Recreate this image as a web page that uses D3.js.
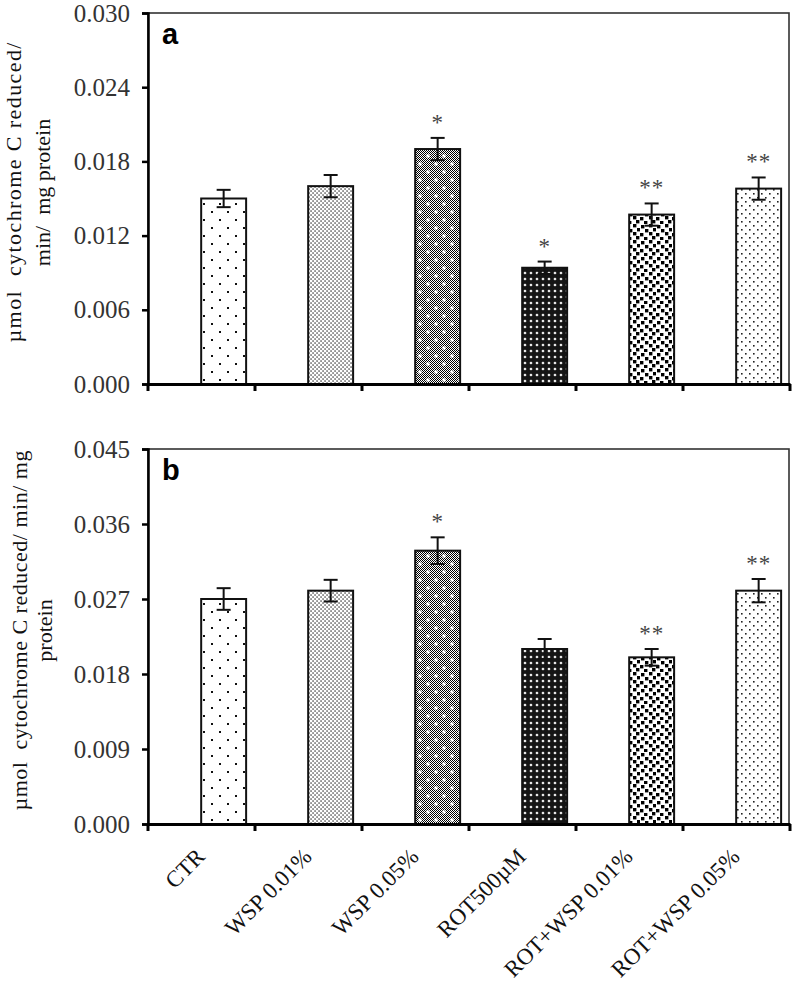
<!DOCTYPE html>
<html><head><meta charset="utf-8">
<script src="https://cdn.jsdelivr.net/npm/d3@7"></script>
<style>body{margin:0;background:#fff}svg{display:block}</style>
</head><body>
<svg id="chart" width="792" height="986"></svg>
<script>
const categories = ["CTR","WSP 0.01%","WSP 0.05%","ROT500µM","ROT+WSP 0.01%","ROT+WSP 0.05%"];
const valuesA = [0.015,0.016,0.019,0.0094,0.0137,0.0158];
const errorsA = [0.0007,0.0009,0.0009,0.0005,0.0009,0.0009];
const signifA = ["","","*","*","**","**"];
const valuesB = [0.027,0.028,0.0328,0.021,0.020,0.028];
const errorsB = [0.0013,0.0013,0.0016,0.0012,0.0010,0.0014];
const signifB = ["","","*","","**","**"];
const ticksA = [0,0.006,0.012,0.018,0.024,0.030];
const ticksB = [0,0.009,0.018,0.027,0.036,0.045];
const titleA = ["µmol  cytochrome C reduced/","min/  mg protein"];
const titleB = ["µmol  cytochrome C reduced/ min/ mg","protein"];
const patterns = ["pCTR","pW1","pW5","pROT","pRW1","pRW5"];

const svg = d3.select("#chart");
const defs = svg.append("defs");
function pat(id,w,h){return defs.append("pattern").attr("id",id).attr("patternUnits","userSpaceOnUse").attr("width",w).attr("height",h);}
let p = pat("pCTR",16,16); p.append("rect").attr("width",16).attr("height",16).attr("fill","#fff");
[[4,4],[12,12]].forEach(d=>p.append("rect").attr("x",d[0]-1).attr("y",d[1]-1).attr("width",2).attr("height",2).attr("fill","#111"));
p = pat("pW1",4,4); p.append("rect").attr("width",4).attr("height",4).attr("fill","#fff");
[[0.4,0.4],[2.4,2.4]].forEach(d=>p.append("rect").attr("x",d[0]).attr("y",d[1]).attr("width",1.3).attr("height",1.3).attr("fill","#222"));
p = pat("pW5",16,16); p.append("rect").attr("width",16).attr("height",16).attr("fill","#fff");
for(let i=0;i<16;i++)for(let j=0;j<16;j++){ if((i+j)%2===0) p.append("rect").attr("x",i).attr("y",j).attr("width",1).attr("height",1).attr("fill","#000"); }
[[4,4],[12,12]].forEach(d=>p.append("rect").attr("x",d[0]-1.5).attr("y",d[1]-1.5).attr("width",3).attr("height",3).attr("fill","#fff"));
p = pat("pROT",6,6); p.append("rect").attr("width",6).attr("height",6).attr("fill","#151515");
p.append("path").attr("d","M3,1.4L4.6,3L3,4.6L1.4,3Z").attr("fill","#fff");
p = pat("pRW1",16,16); p.append("rect").attr("width",16).attr("height",16).attr("fill","#fff");
[[1,1],[9,0],[5,5],[13,4],[0,9],[9,8],[4,13],[12,12]].forEach(d=>p.append("rect").attr("x",d[0]).attr("y",d[1]).attr("width",3.4).attr("height",3.4).attr("fill","#000"));
p = pat("pRW5",8,8); p.append("rect").attr("width",8).attr("height",8).attr("fill","#fff");
[[1,1],[5,5]].forEach(d=>p.append("rect").attr("x",d[0]).attr("y",d[1]).attr("width",1.6).attr("height",1.6).attr("fill","#222"));

const x = d3.scaleBand().domain(categories).range([148,790]).padding(0);
const barOff = 0.497, barW = 0.42;

function panel(values, errors, signif, ticks, top, bottom, label, title, titleX, titleLen){
  const y = d3.scaleLinear().domain([0, ticks[ticks.length-1]]).range([bottom, top]);
  const g = svg.append("g");
  g.append("rect").attr("x",148).attr("y",top).attr("width",641).attr("height",bottom-top)
    .attr("fill","none").attr("stroke","#333").attr("stroke-width",1.6);
  g.selectAll(".bar").data(categories).enter().append("rect")
    .attr("x",c=>x(c)+x.bandwidth()*barOff).attr("width",x.bandwidth()*barW)
    .attr("y",(c,i)=>y(values[i])).attr("height",(c,i)=>y(0)-y(values[i]))
    .attr("fill",(c,i)=>"url(#"+patterns[i]+")").attr("stroke","#111").attr("stroke-width",2);
  const eb = g.selectAll(".eb").data(categories).enter().append("g");
  const cx = c=>x(c)+x.bandwidth()*(barOff+barW/2);
  eb.append("line").attr("x1",cx).attr("x2",cx).attr("y1",(c,i)=>y(values[i]+errors[i])).attr("y2",(c,i)=>y(values[i]-errors[i])).attr("stroke","#111").attr("stroke-width",2);
  eb.append("line").attr("x1",c=>cx(c)-7).attr("x2",c=>cx(c)+7).attr("y1",(c,i)=>y(values[i]+errors[i])).attr("y2",(c,i)=>y(values[i]+errors[i])).attr("stroke","#111").attr("stroke-width",2);
  eb.append("line").attr("x1",c=>cx(c)-7).attr("x2",c=>cx(c)+7).attr("y1",(c,i)=>y(values[i]-errors[i])).attr("y2",(c,i)=>y(values[i]-errors[i])).attr("stroke","#111").attr("stroke-width",2);
  eb.append("text").attr("x",cx).attr("y",(c,i)=>y(values[i]+errors[i])-8)
    .attr("text-anchor","middle").attr("font-family","Liberation Serif").attr("font-size",23).attr("fill","#444")
    .attr("letter-spacing",1).text((c,i)=>signif[i]);
  const ya = g.append("g").attr("transform","translate(148,0)")
    .call(d3.axisLeft(y).tickValues(ticks).tickFormat(d3.format(".3f")).tickSize(6).tickPadding(12));
  ya.select(".domain").attr("stroke","#000").attr("stroke-width",2.5);
  ya.selectAll(".tick line").attr("stroke","#000").attr("stroke-width",2.5);
  ya.selectAll("text").attr("font-family","Liberation Serif").attr("font-size",25).attr("fill","#333");
  const xa = g.append("g").attr("transform","translate(0,"+bottom+")")
    .call(d3.axisBottom(x).tickSize(0).tickFormat(""));
  xa.select(".domain").attr("stroke","#000").attr("stroke-width",3);
  const tk = [148].concat(categories.map(c=>x(c)+x.bandwidth()));
  g.selectAll(".xt").data(tk).enter().append("line").attr("x1",d=>d).attr("x2",d=>d)
    .attr("y1",bottom).attr("y2",bottom+7).attr("stroke","#000").attr("stroke-width",3);
  g.append("text").attr("x",162).attr("y",top+31).attr("font-family","Liberation Sans").attr("font-weight","bold")
    .attr("font-size",29).attr("fill","#000").text(label);
  const cy = (top+bottom)/2 - 6;
  title.forEach((t,i)=>{
    const tt = g.append("text").attr("transform","translate("+titleX[i]+","+cy+") rotate(-90)")
      .attr("text-anchor","middle").attr("font-family","Liberation Serif").attr("font-size",22).attr("fill","#111")
      .attr("xml:space","preserve").style("white-space","pre").text(t);
    if(titleLen[i]) tt.attr("textLength",titleLen[i]).attr("lengthAdjust","spacing");
  });
  return y;
}

panel(valuesA, errorsA, signifA, ticksA, 13, 384, "a", titleA, [21,50], [300,0]);
panel(valuesB, errorsB, signifB, ticksB, 449, 824, "b", titleB, [27,52], [360,0]);

svg.selectAll(".xl").data(categories).enter().append("text")
  .attr("transform",c=>"translate("+(x(c)+x.bandwidth()*barOff+5)+",858) rotate(-45)")
  .attr("text-anchor","end").attr("font-family","Liberation Serif").attr("font-size",23).attr("fill","#111")
  .text(c=>c);
</script>
</body></html>
